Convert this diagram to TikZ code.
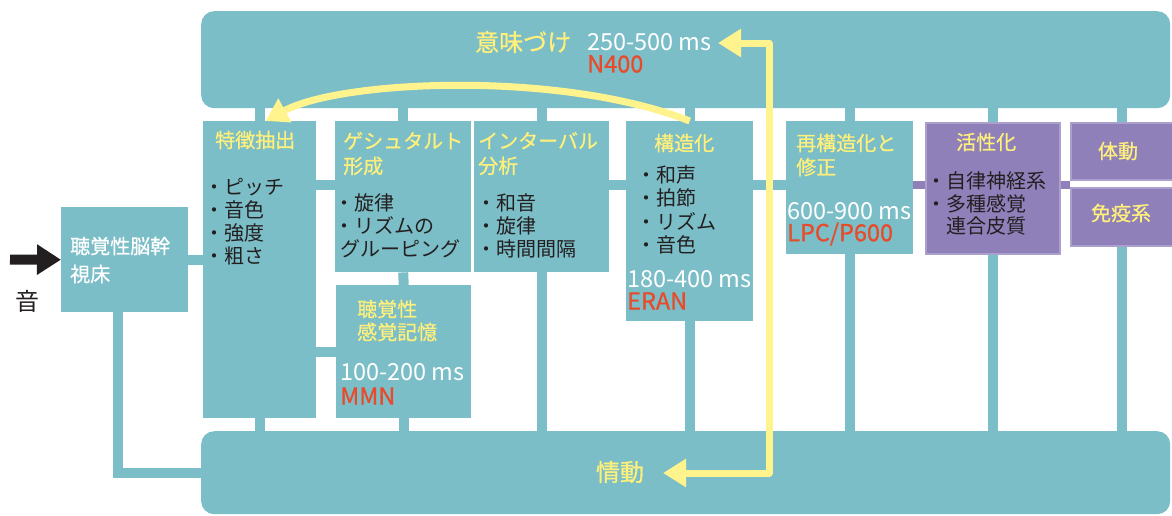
\documentclass[tikz,border=0pt]{standalone}
\usepackage{fontspec}
\setmainfont{Noto Sans CJK JP}
\newfontfamily\jpmed{Noto Sans CJK JP}[FakeBold=0.7]
\usetikzlibrary{arrows.meta,backgrounds}
\definecolor{tealc}{HTML}{7BBEC7}
\definecolor{purp}{HTML}{8F80BA}
\definecolor{ylw}{HTML}{FFF07C}
\definecolor{yarr}{HTML}{FFF38E}
\definecolor{redc}{HTML}{E84A2A}
\definecolor{ink}{HTML}{231F20}
\begin{document}
\begin{tikzpicture}[x=1pt,y=-1pt,
 box/.style={fill=tealc, draw=none, inner sep=0pt, anchor=north west},
 pbox/.style={fill=purp, draw=purp!75, line width=1.5pt, inner sep=0pt, anchor=north west},
 bar/.style={fill=tealc, draw=none, rounded corners=13pt, inner sep=0pt, anchor=north west},
 lbl/.style={inner sep=0pt, anchor=west, align=left, font=\fontsize{20}{23}\selectfont},
 ttl/.style={lbl, text=ylw, font=\jpmed\fontsize{20}{23}\selectfont},
 itm/.style={lbl, text=ink},
 wht/.style={lbl, text=white, font=\jpmed\fontsize{20}{28}\selectfont},
 ms/.style={inner sep=0pt, anchor=west, text=white, font=\fontsize{23.5}{24}\selectfont},
 erp/.style={inner sep=0pt, anchor=west, text=redc, font=\jpmed\fontsize{23.5}{24}\selectfont},
 conn/.style={draw=tealc, line width=10pt},
 pconn/.style={draw=purp, line width=8pt},
 yarrow/.style={draw=yarr, line width=7pt, line join=round},
]
\useasboundingbox (0,0) rectangle (1172,515);

% bars
\node[bar, minimum width=969pt, minimum height=97pt] (topbar) at (201,11) {};
\node[bar, minimum width=969pt, minimum height=83pt] (botbar) at (201,431) {};

% boxes
\node[box, minimum width=127pt, minimum height=105pt] (brain) at (61,207) {};
\node[box, minimum width=113pt, minimum height=297pt] (feat) at (203,121) {};
\node[box, minimum width=136pt, minimum height=151pt] (ges) at (335,121) {};
\node[box, minimum width=135pt, minimum height=151pt] (int) at (474,121) {};
\node[box, minimum width=135pt, minimum height=133pt] (mem) at (336,285) {};
\node[box, minimum width=127pt, minimum height=200pt] (struct) at (626,121) {};
\node[box, minimum width=127pt, minimum height=133pt] (restruct) at (786,121) {};
\node[pbox, minimum width=134pt, minimum height=131pt] (act) at (925,122) {};
\node[pbox, minimum width=102pt, minimum height=57pt] (body) at (1070,122) {};
\node[pbox, minimum width=102pt, minimum height=58pt] (imm) at (1070,187) {};

\coordinate (h1) at (0,185);
\coordinate (src) at (10,259.5);

% texts
\node[inner sep=0pt, text=ink, font=\fontsize{24}{24}\selectfont] (snd) at (27.5,301) {音};
\node[wht] (brain-t) at (70,260) {聴覚性脳幹\\視床};

\node[ttl] (feat-t) at (215,140) {特徴抽出};
\node[itm] (feat-i) at (204,221.5) {・ピッチ\\・音色\\・強度\\・粗さ};

\node[ttl, font=\jpmed\fontsize{20}{25}\selectfont] (ges-t) at (343,153.5) {ゲシュタルト\\形成};
\node[itm] (ges-i) at (334,226) {・旋律\\・リズムの\\\hspace*{6pt}グルーピング};

\node[ttl, font=\jpmed\fontsize{20}{25}\selectfont] (int-t) at (478,153.5) {インターバル\\分析};
\node[itm] (int-i) at (476,226) {・和音\\・旋律\\・時間間隔};

\node[ttl] (mem-t) at (357,320.5) {聴覚性\\感覚記憶};
\node[ms] (mem-ms) at (340,372) {100-200 ms};
\node[erp] (mem-e) at (340,396) {MMN};

\node[ttl] (struct-t) at (654,143) {構造化};
\node[itm, font=\fontsize{20}{23.3}\selectfont] (struct-i) at (636,209.75) {・和声\\・拍節\\・リズム\\・音色};
\node[ms] (struct-ms) at (627,279) {180-400 ms};
\node[erp] (struct-e) at (627,301) {ERAN};

\node[ttl, font=\jpmed\fontsize{20}{24}\selectfont] (restruct-t) at (796,155) {再構造化と\\修正};
\node[ms] (restruct-ms) at (787,211) {600-900 ms};
\node[erp] (restruct-e) at (787,234) {LPC/P600};

\node[ttl] (act-t) at (956,142) {活性化};
\node[itm, font=\fontsize{20}{22.5}\selectfont] (act-i) at (926,203.7) {・自律神経系\\・多種感覚\\\hspace*{20pt}連合皮質};
\node[ttl, anchor=center] (body-t) at (1118,151) {体動};
\node[ttl, anchor=center] (imm-t) at (1121,213) {免疫系};

\node[ttl, font=\jpmed\fontsize{24}{24}\selectfont] (top-t) at (475,42) {意味づけ};
\node[ms] (top-ms) at (587,42) {250-500 ms};
\node[erp] (top-e) at (587,64) {N400};
\node[ttl, font=\jpmed\fontsize{24}{24}\selectfont, anchor=center] (emo-t) at (620,472) {情動};

% connectors
\begin{scope}[on background layer]
\foreach \b in {feat,ges,int,struct,restruct,act,body}
  \draw[conn] (\b.north) -- (\b.north |- topbar.south);
\foreach \b in {feat,mem,int,struct,restruct,act,imm}
  \draw[conn] (\b.south) -- (\b.south |- botbar.north);
\draw[conn] (ges.south) -- (mem.north);
\draw[conn] (brain.east) -- (brain.east -| feat.west);
\draw[conn] ([xshift=-7pt]brain.south) |- (botbar.west);
\draw[conn] (feat.east |- h1) -- (ges.west |- h1);
\draw[conn] (feat.east |- mem.west) -- (mem.west);
\draw[conn] (int.east |- h1) -- (struct.west |- h1);
\draw[conn] (struct.east |- h1) -- (restruct.west |- h1);
\draw[pconn] (restruct.east |- h1) -- (act.west |- h1);
\draw[pconn] (act.east |- h1) -- (body.west |- h1);
\end{scope}

% sound arrow
\draw[draw=ink, line width=10pt, -{Triangle[length=24pt,width=29pt]}] (src) -- (brain.west);

% yellow arrows
\coordinate (mtip) at (718,43);
\coordinate (etip) at (663,473);
\coordinate (yc1) at (769,43);
\coordinate (yc2) at (769,473);
\draw[yarrow, {Triangle[length=23pt,width=27pt]}-{Triangle[length=23pt,width=27pt]}] (etip) -- (yc2) -- (yc1) -- (mtip);
\draw[yarrow, -{Triangle[length=22pt,width=26pt]}] (struct.north) .. controls (560,70) and (340,80) .. ([xshift=6pt]feat.north);
\end{tikzpicture}
\end{document}
